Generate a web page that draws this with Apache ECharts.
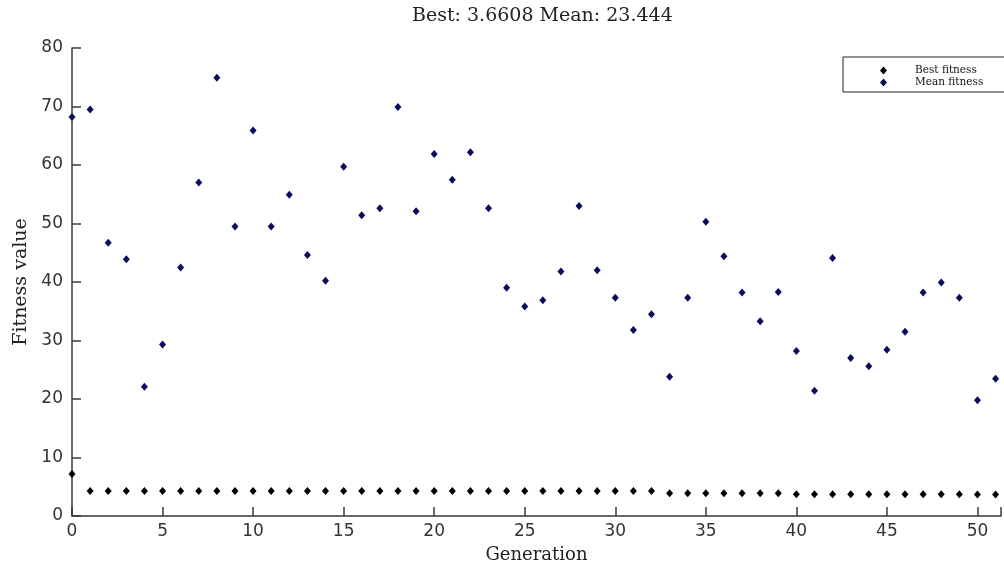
<!DOCTYPE html>
<html>
<head>
<meta charset="utf-8">
<script src="https://cdn.jsdelivr.net/npm/echarts@6/dist/echarts.min.js"></script>
<style>
html,body{margin:0;padding:0;background:#fff;}
#chart{width:1004px;height:569px;}
</style>
</head>
<body>
<div id="chart"></div>
<script>
var generations = [0,1,2,3,4,5,6,7,8,9,10,11,12,13,14,15,16,17,18,19,20,21,22,23,24,25,26,27,28,29,30,31,32,33,34,35,36,37,38,39,40,41,42,43,44,45,46,47,48,49,50,51];
var bestFitness = [7.2,
  4.27,4.27,4.27,4.27,4.27,4.27,4.27,4.27,4.27,4.27,4.27,4.27,4.27,4.27,4.27,4.27,
  4.27,4.27,4.27,4.27,4.27,4.27,4.27,4.27,4.27,4.27,4.27,4.27,4.27,4.27,4.27,4.27,
  3.88,3.88,3.88,3.88,3.88,3.88,3.88,
  3.70,3.70,3.70,3.70,3.70,3.70,3.70,3.70,3.70,3.70,3.67,3.6608];
var meanFitness = [68.2,69.5,46.7,43.9,22.1,29.3,42.5,57.0,74.9,49.5,
  65.9,49.5,54.9,44.6,40.2,59.7,51.4,52.6,69.9,52.1,
  61.9,57.5,62.2,52.6,39.0,35.8,36.9,41.8,53.0,42.0,
  37.3,31.8,34.5,23.8,37.3,50.3,44.4,38.2,33.3,38.3,
  28.2,21.4,44.1,27.0,25.6,28.4,31.5,38.2,39.9,37.3,
  19.8,23.444];
var titleText = 'Best: 3.6608 Mean: 23.444';
var seriesNames = ['Best fitness', 'Mean fitness'];

function pairs(ys){ return generations.map(function(g,i){ return [g, ys[i]]; }); }

var chart = echarts.init(document.getElementById('chart'), null, {renderer:'canvas'});
var axisColor = '#3a3a3a';
chart.setOption({
  animation: false,
  backgroundColor: '#ffffff',
  title: {
    text: titleText, left: 412, top: 7, padding: 0,
    textStyle: {fontFamily: 'DejaVu Serif', fontSize: 19, fontWeight: 'normal', color: '#222'}
  },
  legend: {
    orient: 'vertical', left: 843, top: 57,
    padding: [8, 40, 4, 37], itemGap: 1,
    itemWidth: 7, itemHeight: 8,
    borderColor: '#222', borderWidth: 1, backgroundColor: '#fff',
    textStyle: {fontFamily: 'DejaVu Serif', fontSize: 10.5, color: '#111', padding: [0,0,0,23]},
    data: [{name: seriesNames[0], icon: 'diamond'}, {name: seriesNames[1], icon: 'diamond'}]
  },
  grid: {left: 72, top: 48, bottom: 53, right: 0, containLabel: false},
  xAxis: {
    type: 'value', min: 0, max: 51.3, interval: 5,
    name: 'Generation', nameLocation: 'middle', nameGap: 30,
    nameTextStyle: {fontFamily: 'DejaVu Serif', fontSize: 18, color: '#222'},
    axisLine: {show: true, lineStyle: {color: axisColor, width: 1.5}},
    axisTick: {show: true, inside: true, length: 9, lineStyle: {color: axisColor, width: 1.5}},
    axisLabel: {fontFamily: 'DejaVu Sans', fontSize: 17, color: '#333', margin: 7,
      formatter: function(v){ return v % 5 === 0 ? String(v) : ''; }},
    splitLine: {show: false}
  },
  yAxis: {
    type: 'value', min: 0, max: 80, interval: 10,
    name: 'Fitness value', nameLocation: 'middle', nameGap: 40, nameRotate: 90,
    nameTextStyle: {fontFamily: 'DejaVu Serif', fontSize: 19, color: '#222'},
    axisLine: {show: true, lineStyle: {color: axisColor, width: 1.5}},
    axisTick: {show: true, inside: true, length: 9, lineStyle: {color: axisColor, width: 1.5}},
    axisLabel: {fontFamily: 'DejaVu Sans', fontSize: 17, color: '#333', margin: 9},
    splitLine: {show: false}
  },
  series: [
    {name: seriesNames[0], type: 'scatter', symbol: 'diamond', symbolSize: [7,8],
     itemStyle: {color: '#000000', opacity: 1}, data: pairs(bestFitness)},
    {name: seriesNames[1], type: 'scatter', symbol: 'diamond', symbolSize: [7,8],
     itemStyle: {color: '#0c0c5e', opacity: 1}, data: pairs(meanFitness)}
  ]
});
</script>
</body>
</html>
